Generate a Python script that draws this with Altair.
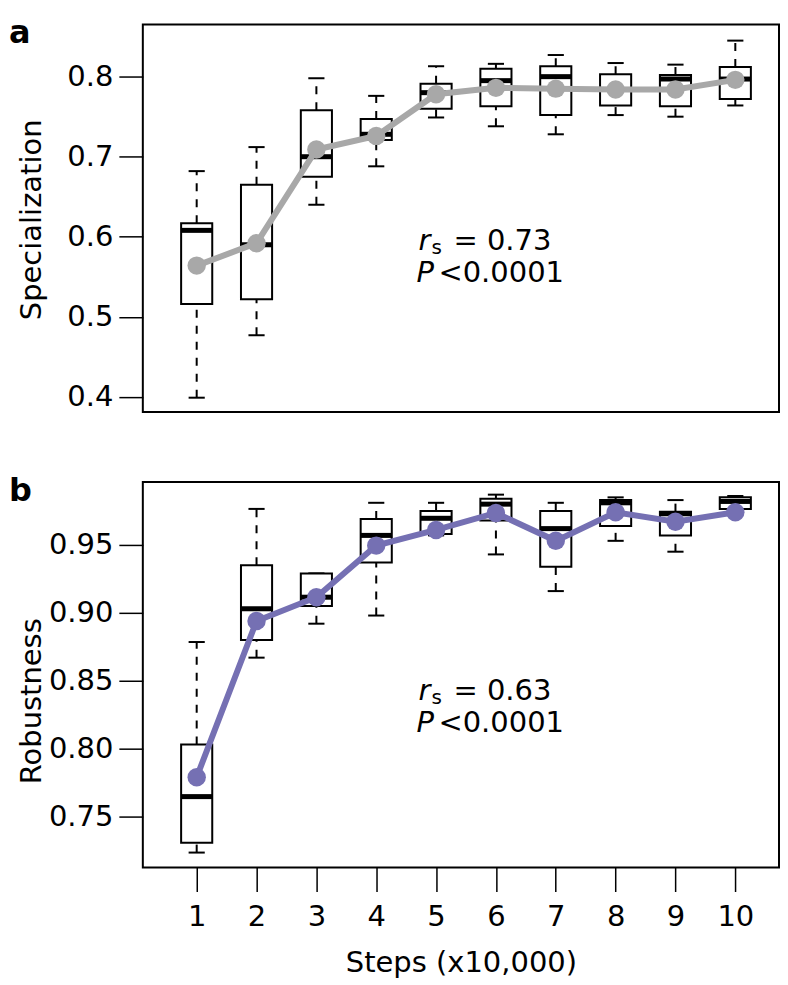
import altair as alt
import pandas as pd

steps = [1, 2, 3, 4, 5, 6, 7, 8, 9, 10]

# Panel a: Specialization (box-plot statistics and mean)
spec_lower = [0.399, 0.477, 0.640, 0.688, 0.749, 0.738, 0.728, 0.752, 0.750, 0.764]
spec_q1 = [0.516, 0.522, 0.675, 0.721, 0.760, 0.763, 0.752, 0.764, 0.763, 0.772]
spec_median = [0.608, 0.590, 0.700, 0.728, 0.780, 0.795, 0.800, 0.784, 0.797, 0.797]
spec_q3 = [0.617, 0.665, 0.758, 0.747, 0.791, 0.810, 0.813, 0.803, 0.802, 0.812]
spec_upper = [0.682, 0.712, 0.798, 0.776, 0.813, 0.816, 0.827, 0.817, 0.815, 0.845]
spec_mean = [0.564, 0.592, 0.709, 0.726, 0.778, 0.786, 0.785, 0.784, 0.784, 0.796]

# Panel b: Robustness
rob_lower = [0.7235, 0.867, 0.892, 0.898, 0.957, 0.943, 0.916, 0.953, 0.945, 0.976]
rob_q1 = [0.7307, 0.880, 0.905, 0.937, 0.958, 0.968, 0.934, 0.964, 0.957, 0.9765]
rob_median = [0.7647, 0.903, 0.9115, 0.957, 0.9696, 0.980, 0.962, 0.981, 0.973, 0.982]
rob_q3 = [0.803, 0.935, 0.929, 0.969, 0.975, 0.984, 0.975, 0.983, 0.9745, 0.985]
rob_upper = [0.8785, 0.9765, 0.929, 0.981, 0.981, 0.987, 0.981, 0.985, 0.983, 0.986]
rob_mean = [0.779, 0.894, 0.9115, 0.9495, 0.961, 0.9735, 0.953, 0.974, 0.967, 0.974]

x_ticks = steps
spec_ticks = [0.4, 0.5, 0.6, 0.7, 0.8]
rob_ticks = [0.75, 0.80, 0.85, 0.90, 0.95]

FONT = "DejaVu Sans"
FS = 29
PLOT_W = 637


def panel(lower, q1, med, q3, upper, mean, ydomain, yticks, yfmt, ytitle,
          ytitle_y, color, letter, ann_r, show_x, height, letter_y, ann_y):
    df = pd.DataFrame({"step": steps, "lower": lower, "q1": q1, "median": med,
                       "q3": q3, "upper": upper, "mean": mean})
    xscale = alt.Scale(domain=[0.1, 10.73], nice=False, zero=False)
    yscale = alt.Scale(domain=ydomain, nice=False, zero=False)
    if show_x:
        xaxis = alt.Axis(values=x_ticks, title="Steps (x10,000)", tickSize=24,
                         tickWidth=1.5, tickColor="black", domain=False, grid=False,
                         labelFontSize=FS, labelPadding=11, labelColor="black",
                         titleFontSize=FS, titleFontWeight="normal", titleColor="black",
                         titlePadding=17, labelFont=FONT, titleFont=FONT)
    else:
        xaxis = None
    yaxis = alt.Axis(values=yticks, format=yfmt, title=ytitle, tickSize=24,
                     tickWidth=1.5, tickColor="black", domain=False, grid=False,
                     labelFontSize=FS, labelPadding=6, labelColor="black",
                     titleFontSize=FS, titleFontWeight="normal", titleColor="black",
                     titleX=-96, titleY=ytitle_y, titleBaseline="bottom",
                     labelFont=FONT, titleFont=FONT)

    def X(f):
        return alt.X(f, type="quantitative", scale=xscale, axis=xaxis)

    def Y(f):
        return alt.Y(f, type="quantitative", scale=yscale, axis=yaxis)

    base = alt.Chart(df).transform_calculate(
        xl="datum.step - 0.26", xr="datum.step + 0.26",
        cl="datum.step - 0.135", cr="datum.step + 0.135")

    whisk_up = base.mark_rule(color="black", strokeWidth=2, strokeDash=[8, 8]).encode(
        x=X("step"), y=Y("q3"), y2="upper")
    whisk_lo = base.mark_rule(color="black", strokeWidth=2, strokeDash=[8, 8]).encode(
        x=X("step"), y=Y("lower"), y2="q1")
    cap_up = base.mark_rule(color="black", strokeWidth=2).encode(
        x=X("cl"), x2="cr", y=Y("upper"))
    cap_lo = base.mark_rule(color="black", strokeWidth=2).encode(
        x=X("cl"), x2="cr", y=Y("lower"))
    box = base.mark_bar(fill="white", stroke="black", strokeWidth=2).encode(
        x=X("xl"), x2="xr", y=Y("q1"), y2="q3")
    median = base.mark_rule(color="black", strokeWidth=5).encode(
        x=X("xl"), x2="xr", y=Y("median"))
    line = base.mark_line(color=color, strokeWidth=6).encode(
        x=X("step"), y=Y("mean"))
    pts = base.mark_circle(color=color, opacity=1, size=340).encode(
        x=X("step"), y=Y("mean"))

    letter_mark = alt.Chart(pd.DataFrame({"t": [letter]})).mark_text(
        font=FONT, fontSize=32, fontWeight="bold", align="left", color="black").encode(
        text="t:N", x=alt.value(-134), y=alt.value(letter_y))

    ann_y1, ann_y2 = ann_y

    def label(t, x, y, size=FS, style="normal"):
        return alt.Chart(pd.DataFrame({"t": [t]})).mark_text(
            font=FONT, fontSize=size, fontStyle=style, align="left",
            color="black").encode(text="t:N", x=alt.value(x), y=alt.value(y))

    ann = [
        label("r", 276, ann_y1, style="italic"),
        label("s", 289, ann_y1 + 7, size=20),
        label("= " + ann_r, 311, ann_y1),
        label("P", 274, ann_y2, style="italic"),
        label("<0.0001", 296, ann_y2),
    ]

    return alt.layer(whisk_up, whisk_lo, cap_up, cap_lo, box, median, line, pts,
                     letter_mark, *ann).properties(width=PLOT_W, height=height)


pa = panel(spec_lower, spec_q1, spec_median, spec_q3, spec_upper, spec_mean,
           [0.381, 0.865], spec_ticks, ".1f", "Specialization", 195, "#a8a8a8",
           "a", "0.73", False, 388, 8.5, (217, 249))
pb = panel(rob_lower, rob_q1, rob_median, rob_q3, rob_upper, rob_mean,
           [0.7125, 0.9963], rob_ticks, ".2f", "Robustness", 219, "#7570b3",
           "b", "0.63", True, 386, 9, (209, 241))

chart = alt.vconcat(pa, pb, spacing=70).properties(
    bounds="flush", padding={"top": 7, "left": 0, "right": 0, "bottom": 0}
).configure(font=FONT).configure_view(stroke="black", strokeWidth=2)

chart.save("out.html", embed_options={"renderer": "svg", "actions": False})
